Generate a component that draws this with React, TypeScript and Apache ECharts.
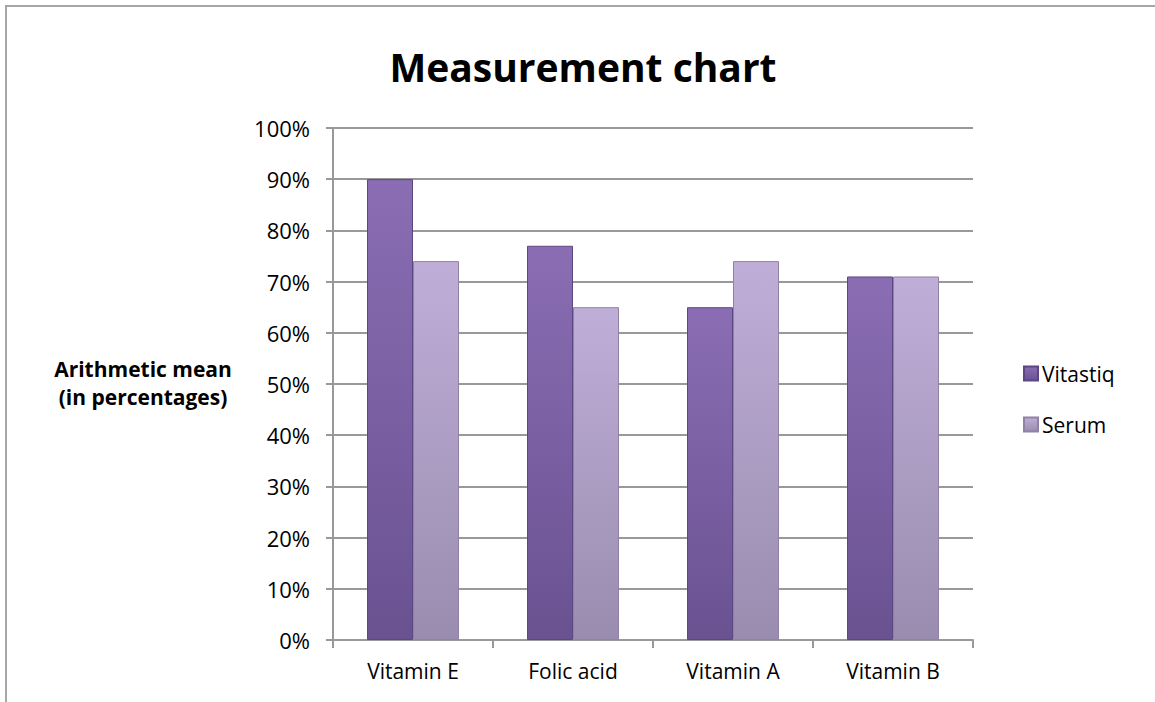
import React, { useEffect, useRef } from "react";
import * as echarts from "echarts";

const categories = ["Vitamin E", "Folic acid", "Vitamin A", "Vitamin B"];
const vitastiq = [90, 77, 65, 71];
const serum = [74, 65, 74, 71];
const seriesNames = ["Vitastiq", "Serum"];

const FONT = "'Open Sans', 'Noto Sans', sans-serif";

export default function App() {
  const ref = useRef<HTMLDivElement>(null);
  useEffect(() => {
    if (!ref.current) return;
    const chart = echarts.init(ref.current, null, { renderer: "svg" });
    const grad = (a: string, b: string) =>
      new echarts.graphic.LinearGradient(0, 0, 0, 1, [
        { offset: 0, color: a },
        { offset: 1, color: b },
      ]);
    chart.setOption({
      animation: false,
      backgroundColor: "#fff",
      title: {
        text: "Measurement chart",
        left: 578,
        textAlign: "center",
        top: 42,
        textStyle: { fontFamily: FONT, fontWeight: "bold", fontSize: 39, color: "#000" },
      },
      legend: {
        orient: "vertical",
        left: 1018,
        top: 358,
        itemGap: 30,
        itemWidth: 14,
        itemHeight: 14,
        icon: "rect",
        data: seriesNames,
        textStyle: { fontFamily: FONT, fontSize: 21, color: "#000", padding: [0, 0, 0, -1] },
      },
      grid: { left: 333, right: 182, top: 128, bottom: 62, containLabel: false },
      xAxis: {
        type: "category",
        data: categories,
        axisLine: { lineStyle: { color: "#999", width: 2 } },
        axisTick: { show: true, length: 8, lineStyle: { color: "#999", width: 2 } },
        axisLabel: { fontFamily: FONT, fontSize: 21, color: "#000", margin: 20 },
      },
      yAxis: {
        type: "value",
        min: 0,
        max: 100,
        interval: 10,
        axisLine: { show: true, lineStyle: { color: "#999", width: 2 } },
        axisTick: { show: true, length: 7, lineStyle: { color: "#999", width: 2 } },
        splitLine: { lineStyle: { color: "#999", width: 2 } },
        axisLabel: {
          fontFamily: FONT,
          fontSize: 22,
          color: "#000",
          margin: 23,
          formatter: (v: number) => v + "%",
        },
      },
      graphic: [
        {
          type: "rect",
          shape: { x: 6, y: 6, width: 3000, height: 3000 },
          style: { fill: "none", stroke: "#a6a6a6", lineWidth: 2 },
          silent: true,
        },
        {
          type: "text",
          x: 143,
          y: 383,
          style: {
            text: "Arithmetic mean\n(in percentages)",
            fontFamily: FONT,
            fontWeight: "bold",
            fontSize: 21,
            lineHeight: 28,
            fill: "#000",
            align: "center",
            verticalAlign: "middle",
          },
        },
      ],
      series: [
        {
          name: seriesNames[0],
          type: "bar",
          data: vitastiq,
          barGap: "0%",
          barCategoryGap: "42.5%",
          itemStyle: {
            color: grad("#8a6db3", "#6a5291"),
            borderColor: "#5d4783",
            borderWidth: 1,
          },
        },
        {
          name: seriesNames[1],
          type: "bar",
          data: serum,
          itemStyle: {
            color: grad("#bfaed8", "#9a8caf"),
            borderColor: "#8f82a3",
            borderWidth: 1,
          },
        },
      ],
    });
    return () => chart.dispose();
  }, []);
  return (
    <div
      ref={ref}
      style={{ position: "fixed", left: 0, top: 0, width: 1155, height: 702 }}
    />
  );
}
